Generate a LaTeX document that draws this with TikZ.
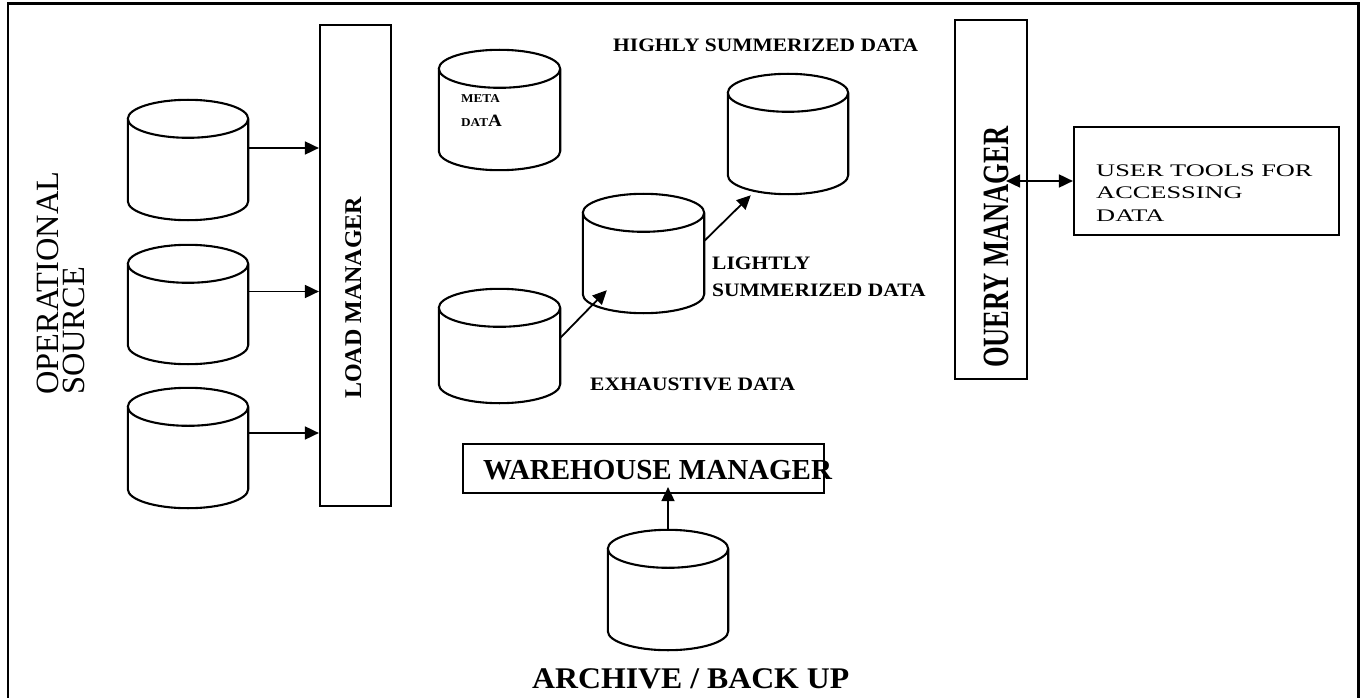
\documentclass[tikz,border=0pt]{standalone}
\usepackage{fontspec}
\setmainfont{Liberation Serif}
\usetikzlibrary{arrows.meta,calc}

% horizontal stretch of a label and a fixed font size
\newcommand\sx[2]{\scalebox{#1}[1]{#2}}
\newcommand\fs[1]{\fontsize{#1}{#1}\selectfont}

% database cylinder drawn inside the bounding box of a named node
\newcommand\drawdb[1]{%
  \draw[dbline] let \p1=(#1.north west), \p2=(#1.south east) in
    (\x1,\y1-19pt) -- (\x1,\y2+19pt)
    arc[start angle=180, end angle=360, x radius={(\x2-\x1)/2}, y radius=19pt]
    -- (\x2,\y1-19pt)
    ({(\x1+\x2)/2},\y1-19pt) ellipse[x radius={(\x2-\x1)/2}, y radius=19pt];}

\begin{document}
\begin{tikzpicture}[x=1pt,y=-1pt,
  box/.style={draw, line width=2.2pt, rectangle, inner sep=0pt},
  db/.style={rectangle, inner sep=0pt},
  dbline/.style={line width=2.1pt},
  tip/.tip={Triangle[length=14pt,width=13pt]},
  flow/.style={line width=1.8pt, -tip},
  both/.style={line width=1.8pt, tip-tip},
  lbl/.style={inner sep=0pt},
]
\useasboundingbox (0,0) rectangle (1366,698);
\fill[white] (0,0) rectangle (1366,698);

% outer frame, open at the bottom
\draw[line width=2.6pt] (7.8,705) -- (7.8,3.8) -- (1358.3,3.8) -- (1358.3,705);

% managers and user box
\node[box, minimum width=71pt, minimum height=481pt] (lm) at (355.5,265.5) {};
\node[box, minimum width=72pt, minimum height=359pt] (qm) at (991,199.5) {};
\node[box, minimum width=265pt, minimum height=108pt] (ut) at (1206.5,181) {};
\node[box, minimum width=361pt, minimum height=49pt] (wh) at (643.5,468.5) {};

% databases
\node[db, minimum width=120pt, minimum height=120pt] (c1) at (188,160) {};
\node[db, minimum width=120pt, minimum height=119pt] (c2) at (188,304.5) {};
\node[db, minimum width=120pt, minimum height=120pt] (c3) at (188,448) {};
\node[db, minimum width=121pt, minimum height=120pt] (meta) at (499.5,110) {};
\node[db, minimum width=121pt, minimum height=114pt] (exh) at (499.5,346) {};
\node[db, minimum width=121pt, minimum height=119pt] (light) at (643.5,253.5) {};
\node[db, minimum width=120pt, minimum height=120pt] (high) at (788,134) {};
\node[db, minimum width=120pt, minimum height=120pt] (arch) at (668,590) {};
\foreach \dbname in {c1,c2,c3,meta,exh,light,high,arch} {\drawdb{\dbname}}

% connectors
\draw[flow] ([yshift=12pt]c1.east) -- ([yshift=12pt]c1.east -| lm.west);
\draw[flow] ([yshift=13pt]c2.east) -- ([yshift=13pt]c2.east -| lm.west);
\draw[flow] ([yshift=15pt]c3.east) -- ([yshift=15pt]c3.east -| lm.west);
\draw[flow] ([yshift=8pt]exh.east) -- ([shift={(24pt,23pt)}]light.south west);
\draw[flow] ([yshift=12.5pt]light.east) -- ([shift={(23pt,-1pt)}]high.south west);
\draw[flow] (arch.north) -- ([yshift=7pt]arch.north |- wh.south);
\draw[both] ([xshift=-22pt]qm.east |- ut.west) -- (ut.west);

% labels
\node[lbl, rotate=90, anchor=base west, font=\fs{32.4}] (op1) at (58,395) {OPERATIONAL};
\node[lbl, rotate=90, anchor=base west, font=\fs{32.4}] (op2) at (84,395) {SOURCE};
\node[lbl, rotate=90, anchor=base west, font=\fs{24}\bfseries] (lmt) at (361,399) {LOAD MANAGER};
\node[lbl, rotate=90, anchor=base west, font=\fs{37}\bfseries] (qmt) at (1008,368) {\sx{0.716}{OUERY MANAGER}};

\node[lbl, anchor=base west, font=\fs{12}\bfseries] (mt1) at (461,103) {\sx{1.1}{META}};
\node[lbl, anchor=base west, font=\fs{12}\bfseries] (mt2) at (461,127) {\sx{1.1}{DAT\fs{17.3}A}};

\node[lbl, anchor=base west, font=\fs{19}\bfseries] (hs) at (613,52) {\sx{1.13}{HIGHLY SUMMERIZED DATA}};
\node[lbl, anchor=base west, font=\fs{19}\bfseries] (ls1) at (712,269) {\sx{1.13}{LIGHTLY}};
\node[lbl, anchor=base west, font=\fs{19}\bfseries] (ls2) at (712,296) {\sx{1.13}{SUMMERIZED DATA}};
\node[lbl, anchor=base west, font=\fs{19}\bfseries] (ex) at (590,390) {\sx{1.13}{EXHAUSTIVE DATA}};

\node[lbl, anchor=base west, font=\fs{29}\bfseries] (wht) at (483,479) {WAREHOUSE MANAGER};
\node[lbl, anchor=base west, font=\fs{30}\bfseries] (ab) at (532,688) {\sx{1.06}{ARCHIVE / BACK UP}};

\node[lbl, anchor=base west, font=\fs{17.7}] (ut1) at (1096,176) {\sx{1.49}{USER TOOLS FOR}};
\node[lbl, anchor=base west, font=\fs{17.7}] (ut2) at (1096,199) {\sx{1.49}{ACCESSING}};
\node[lbl, anchor=base west, font=\fs{17.7}] (ut3) at (1096,222) {\sx{1.49}{DATA}};
\end{tikzpicture}
\end{document}
